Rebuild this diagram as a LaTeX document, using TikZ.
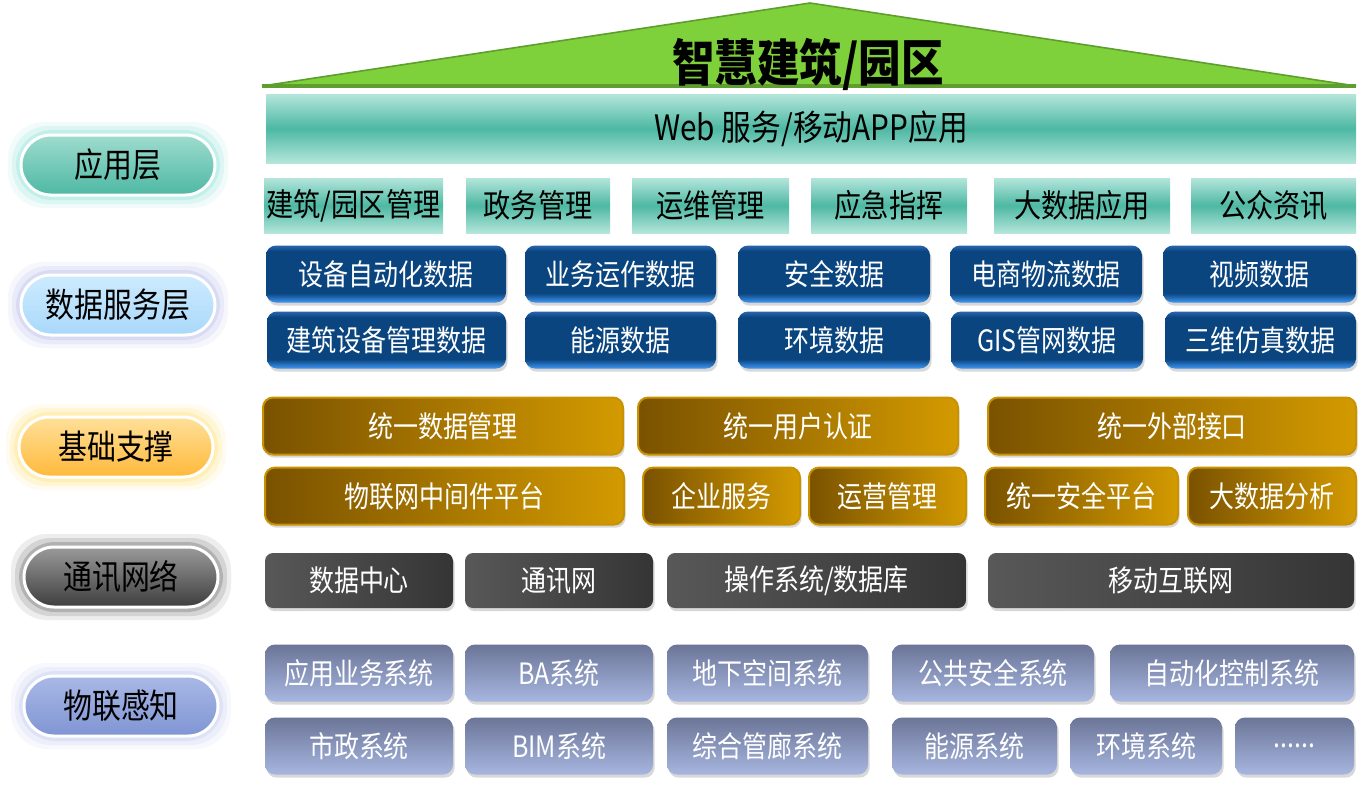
\documentclass[tikz,border=0pt]{standalone}
\usepackage{fontspec}
\setmainfont{Noto Sans CJK SC}[FakeStretch=0.85]
\usetikzlibrary{shadows}

\definecolor{roofgreen}{HTML}{7FD13B}
\definecolor{roofedge}{HTML}{5E9E2E}
\definecolor{tealL}{HTML}{B4E6DB}
\definecolor{tealM}{HTML}{4DB8A3}
\definecolor{blueA}{HTML}{2A66AE}
\definecolor{blueB}{HTML}{0A4580}
\definecolor{blueC}{HTML}{3A8EE6}
\definecolor{goldL}{HTML}{7A5200}
\definecolor{goldR}{HTML}{D39A00}
\definecolor{goldE}{HTML}{C89200}
\definecolor{darkL}{HTML}{585858}
\definecolor{darkR}{HTML}{353535}
\definecolor{lavT}{HTML}{6B7597}
\definecolor{lavB}{HTML}{A7B6E0}

\pgfdeclareverticalshading{bluebar}{100bp}{color(0bp)=(blueC); color(26bp)=(blueC); color(33bp)=(blueB); color(70bp)=(blueB); color(75bp)=(blueA); color(100bp)=(blueA)}

\tikzset{
	every node/.style={inner sep=0pt},
	boxfont/.style={font=\fontsize{14.7}{17}\selectfont},
	shad/.style={drop shadow={opacity=0.3, shadow xshift=0.8pt, shadow yshift=-1.6pt}},
	appbox/.style={top color=tealL, bottom color=tealL, middle color=tealM, font=\fontsize{16}{19}\selectfont},
	databox/.style={shade, shading=bluebar, rounded corners=5pt, shad, boxfont, text=white},
	basebox/.style={left color=goldL, right color=goldR, draw=goldE, line width=1pt, rounded corners=5pt, shad, boxfont, text=white},
	netbox/.style={left color=darkL, right color=darkR, rounded corners=4pt, shad, boxfont, text=white},
	iotbox/.style={top color=lavT, bottom color=lavB, rounded corners=5pt, shad, boxfont, text=white},
	pill/.style={rounded corners=15pt, minimum width=97pt, minimum height=30pt, draw=white, line width=1.5pt, font=\fontsize{17}{20}\selectfont},
}

\begin{document}
\begin{tikzpicture}[x=0.5pt, y=-0.5pt]
	\fill[white] (0,0) rectangle (1364,789);
	\useasboundingbox (0,0) rectangle (1364,789);
	
	%	roof
	\fill[roofgreen, draw=roofedge, line width=0.8pt] (262,86) -- (810,3) -- (1356,86) -- cycle;
	\draw[roofedge, line width=2pt] (262,86) -- (1356,86);
	\node[font=\bfseries\fontsize{25}{28}\selectfont] (title) at (808,64) {智慧建筑/园区};
	
	%	layer labels
	\foreach \n/\x/\y/\txt/\ca/\cb/\cg in {p1/118/165/应用层/9FDCCF/4DB8A3/8FE6DA, p2/118/305/数据服务层/CDEBFF/A9D8FA/B9BEEB, p3/116/447/基础支撑/FFE09A/FFB93A/FFE27A, p4/121/577/通讯网络/9A9A9A/3E3E3E/707070, p5/121/706/物联感知/A9B8E6/7F95D3/C2CCF0}{
		\definecolor{pt}{HTML}{\ca}
		\definecolor{pb}{HTML}{\cb}
		\definecolor{pg}{HTML}{\cg}
		\foreach \g/\o in {13/0.12, 9/0.2, 5/0.35}
			\fill[pg, opacity=\o, rounded corners=18pt] (\x-97-\g, \y-30-\g) rectangle (\x+97+\g, \y+30+\g);
		\node[pill, top color=pt, bottom color=pb] (\n) at (\x,\y) {\txt};
	}
	
	%	application layer
	\node[appbox, minimum width=545pt, minimum height=34.5pt, font=\fontsize{17.5}{20}\selectfont] (web) at (811,128.5) {Web 服务/移动APP应用};
	\foreach \n/\xa/\xb/\txt in {a1/264/443/{建筑/园区管理}, a2/466/610/政务管理, a3/632/789/运维管理, a4/811/967/应急指挥, a5/994/1170/大数据应用, a6/1191/1356/公众资讯}
		\node[appbox, minimum width={(\xb-\xa)*0.5pt}, minimum height=27.5pt] (\n) at ({(\xa+\xb)/2},205.5) {\txt};
	
	%	data service layer
	\foreach \n/\xa/\xb/\y/\txt in {d1/266/506/274/设备自动化数据, d2/525/716/274/业务运作数据, d3/738/930/274/安全数据, d4/950/1142/274/电商物流数据, d5/1163/1356/274/视频数据, d6/267/506/340/建筑设备管理数据, d7/525/716/340/能源数据, d8/738/930/340/环境数据, d9/951/1143/340/GIS管网数据, d10/1165/1356/340/三维仿真数据}
		\node[databox, minimum width={(\xb-\xa)*0.5pt}, minimum height=28.5pt] (\n) at ({(\xa+\xb)/2},\y) {\txt};
	
	%	base support
	\foreach \n/\xa/\xb/\y/\txt in {s1/263/623/426/统一数据管理, s2/638/958/426/统一用户认证, s3/988/1356/426/统一外部接口, s4/265/624/496/物联网中间件平台, s5/643/800/496/企业服务, s6/809/966/496/运营管理, s7/985/1178/496/统一安全平台, s8/1188/1356/496/大数据分析}
		\node[basebox, minimum width={(\xb-\xa)*0.5pt}, minimum height=28.5pt] (\n) at ({(\xa+\xb)/2},\y) {\txt};
	
	%	network
	\foreach \n/\xa/\xb/\txt in {n1/265/453/数据中心, n2/465/653/通讯网, n3/667/966/{操作系统/数据库}, n4/988/1354/移动互联网}
		\node[netbox, minimum width={(\xb-\xa)*0.5pt}, minimum height=27.5pt] (\n) at ({(\xa+\xb)/2},580.5) {\txt};
	
	%	iot sensing
	\foreach \n/\xa/\xb/\y/\txt in {i1/265/453/673/应用业务系统, i2/465/653/673/BA系统, i3/667/868/673/地下空间系统, i4/892/1094/673/公共安全系统, i5/1110/1354/673/自动化控制系统, i6/265/453/746/市政系统, i7/465/653/746/BIM系统, i8/667/868/746/综合管廊系统, i9/892/1057/746/能源系统, i10/1070/1222/746/环境系统, i11/1235/1354/746/{......}}
		\node[iotbox, minimum width={(\xb-\xa)*0.5pt}, minimum height=28.5pt] (\n) at ({(\xa+\xb)/2},\y) {\txt};
\end{tikzpicture}
\end{document}
